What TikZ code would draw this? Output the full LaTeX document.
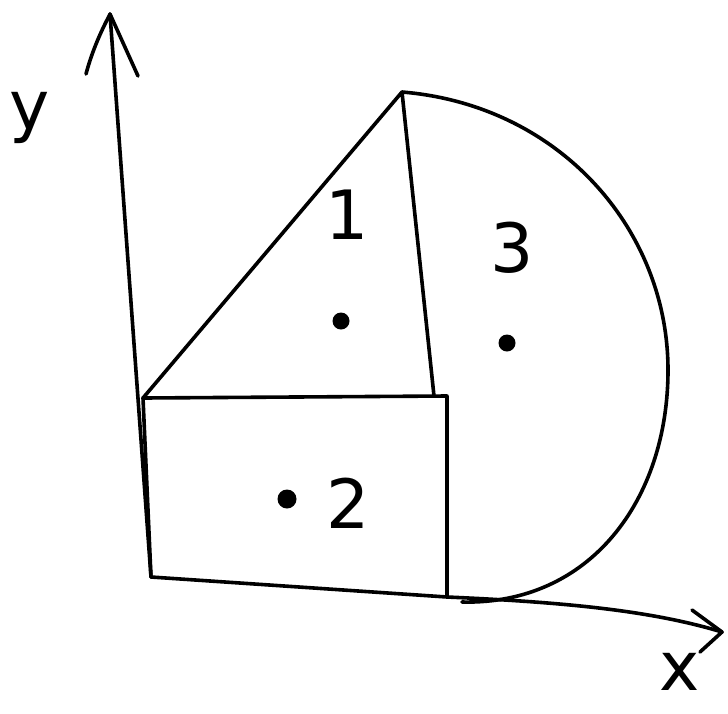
\documentclass[tikz,border=0pt]{standalone}
\usepackage{fontspec}
\setsansfont{DejaVu Sans}
\begin{document}
\begin{tikzpicture}[x=1pt,y=-1pt,
  stroke/.style={line width=3.6pt,line cap=round,line join=round,black},
  lbl/.style={font=\sffamily\fontsize{68}{68}\selectfont,inner sep=0pt},
  dot/.style={circle,fill=black,minimum size=17pt,inner sep=0pt}]
\useasboundingbox[fill=white] (0,0) rectangle (728,713);
% corners
\coordinate (O) at (151,577);
\coordinate (Ytop) at (110,14);
\coordinate (RTL) at (143,398);
\coordinate (RTR) at (447,396);
\coordinate (RBR) at (447,597);
\coordinate (Apex) at (402,92);
\coordinate (TBase) at (434,396);
\coordinate (Xend) at (722,632);
\coordinate (Ya) at (86,74);
\coordinate (Yb) at (138,76);
\coordinate (Xa) at (692,610);
\coordinate (Xb) at (700,652);
\coordinate (ArcEnd) at (462,602);
% y axis
\draw[stroke] (O) -- (Ytop);
\draw[stroke] (Ya) .. controls (95,40) and (110,15) .. (Ytop) -- (Yb);
% x axis
\draw[stroke] (O) -- (RBR) .. controls (560,602) and (650,610) .. (Xend);
\draw[stroke] (Xa) -- (Xend) -- (Xb);
% rectangle
\draw[stroke] (O) -- (RTL) -- (RTR) -- (RBR);
% triangle
\draw[stroke] (RTL) -- (Apex) -- (TBase);
% arc
\draw[stroke] (Apex) .. controls (560,105) and (668,230) .. (668,370)
  .. controls (668,500) and (590,605) .. (ArcEnd);
% dots
\node[dot] (d1) at (341,321) {};
\node[dot] (d3) at (507,343) {};
\node[dot,minimum size=19pt] (d2) at (287,499) {};
% labels
\node[lbl] (l1) at (347,215) {1};
\node[lbl] (l3) at (512,248) {3};
\node[lbl] (l2) at (348,503) {2};
\node[lbl] (ly) at (30,118) {y};
\node[lbl] (lx) at (680,672) {x};
\end{tikzpicture}
\end{document}
